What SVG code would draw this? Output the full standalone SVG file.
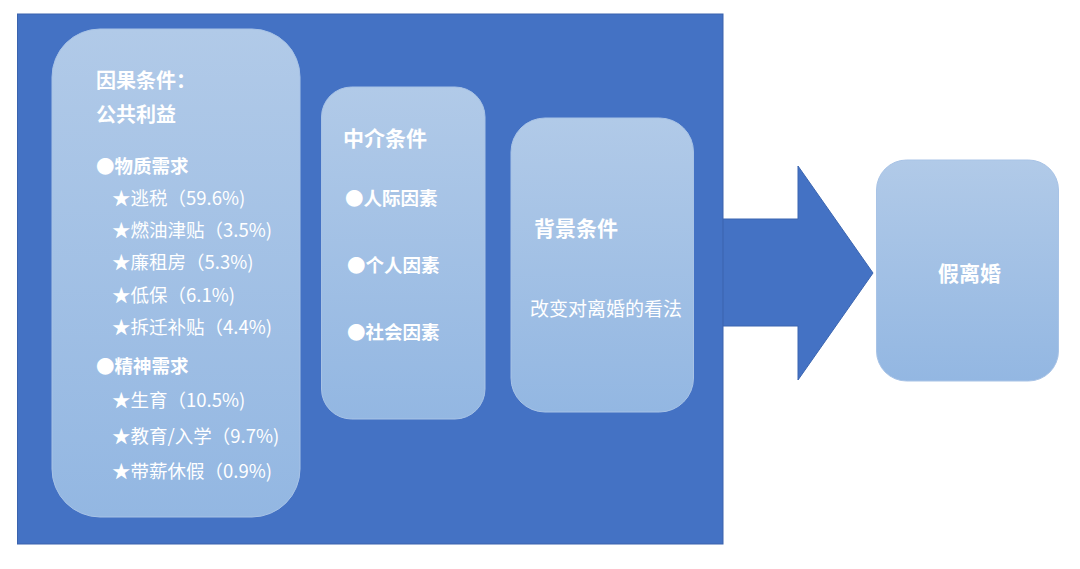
<svg xmlns="http://www.w3.org/2000/svg" width="1080" height="569" viewBox="0 0 1080 569">
<defs>
<linearGradient id="g" x1="0" y1="0" x2="0" y2="1">
<stop offset="0" stop-color="#B1CAE8"/>
<stop offset="1" stop-color="#93B7E2"/>
</linearGradient>
<style>
.box{fill:url(#g);stroke:#A8C3E6;stroke-width:1}
text{font-family:"Noto Sans CJK SC","Noto Sans",sans-serif;fill:#FFFFFF}
.t{font-size:20px;font-weight:bold}
.h{font-size:21px;font-weight:bold}
.b{font-size:18.5px;font-weight:bold}
.i{font-size:18.5px}
</style>
</defs>
<rect width="1080" height="569" fill="#FFFFFF"/>
<g id="connectors">
<polygon points="720,219 798,219 798,166 873,273 798,380 798,326 720,326" fill="#4472C4" stroke="#3B65B0" stroke-width="1"/>
</g>
<g id="container">
<rect x="17.5" y="14" width="705.5" height="530" fill="#4472C4" stroke="#3A63AD" stroke-width="1"/>
</g>
<g id="node-causal">
<rect class="box" x="52" y="29" width="248" height="488" rx="48" ry="48"/>
<text class="t" x="96" y="88">因果条件：</text>
<text class="t" x="96" y="122">公共利益</text>
<text class="b" x="96" y="173">●物质需求</text>
<text class="i" x="112" y="205">★逃税（59.6%)</text>
<text class="i" x="112" y="237">★燃油津贴（3.5%)</text>
<text class="i" x="112" y="269">★廉租房（5.3%)</text>
<text class="i" x="112" y="302">★低保（6.1%)</text>
<text class="i" x="112" y="334">★拆迁补贴（4.4%)</text>
<text class="b" x="96" y="373">●精神需求</text>
<text class="i" x="112" y="407">★生育（10.5%)</text>
<text class="i" x="112" y="443">★教育/入学（9.7%)</text>
<text class="i" x="112" y="478">★带薪休假（0.9%)</text>
</g>
<g id="node-mediating">
<rect class="box" x="321.5" y="87" width="163.5" height="332" rx="30" ry="30"/>
<text class="h" x="343" y="146">中介条件</text>
<text class="b" x="345" y="205">●人际因素</text>
<text class="b" x="347" y="272">●个人因素</text>
<text class="b" x="347" y="339">●社会因素</text>
</g>
<g id="node-context">
<rect class="box" x="511" y="118" width="182.5" height="294" rx="34" ry="34"/>
<text class="h" x="534" y="236">背景条件</text>
<text x="530" y="316" style="font-size:19px">改变对离婚的看法</text>
</g>
<g id="node-result">
<rect class="box" x="876.5" y="160" width="182" height="221" rx="30" ry="30"/>
<text class="h" x="969.5" y="281" text-anchor="middle">假离婚</text>
</g>
</svg>
